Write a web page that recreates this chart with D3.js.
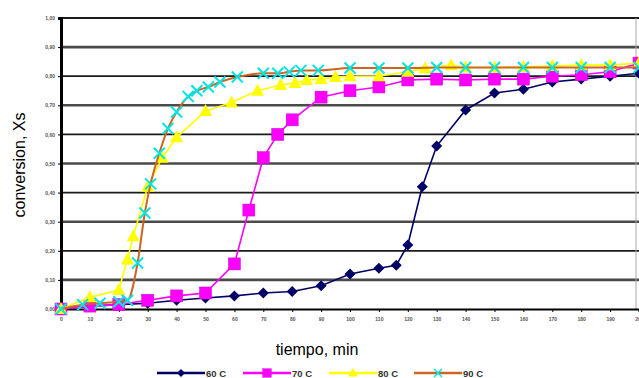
<!DOCTYPE html>
<html><head><meta charset="utf-8">
<script src="https://cdn.jsdelivr.net/npm/d3@7/dist/d3.min.js"></script>
<style>body{margin:0;background:#fff}svg{display:block}</style>
</head><body>
<svg id="c" width="639" height="378"></svg>
<script>
const t60=[0,10,20,30,40,50,60,70,80,90,100,110,116,120,125,130,140,150,160,170,180,190,200];
const x60=[0,0.01,0.015,0.02,0.03,0.038,0.045,0.055,0.06,0.08,0.12,0.14,0.15,0.22,0.42,0.56,0.684,0.742,0.755,0.78,0.79,0.80,0.81];
const t70=[0,10,20,30,40,50,60,65,70,75,80,90,100,110,120,130,140,150,160,170,180,190,200];
const x70=[0,0.01,0.015,0.03,0.045,0.055,0.155,0.34,0.52,0.60,0.65,0.728,0.75,0.763,0.787,0.79,0.787,0.79,0.79,0.80,0.805,0.815,0.845];
const t80=[0,10,20,23,25,30,35,40,50,59,68,76,81,85,90,95,100,110,120,126,135,140,150,160,170,180,190,200];
const x80=[0,0.04,0.065,0.17,0.25,0.42,0.52,0.59,0.68,0.71,0.75,0.77,0.777,0.787,0.79,0.797,0.80,0.80,0.815,0.827,0.838,0.83,0.83,0.832,0.835,0.838,0.838,0.845];
const t90=[0,7.5,13.5,20,23,26.5,29,31,34,37,40,44,47,51,55,61,70,75,79,83,89,100,110,120,130,140,150,160,170,180,190,200];
const x90=[0,0.015,0.02,0.025,0.03,0.158,0.33,0.43,0.535,0.62,0.677,0.73,0.75,0.763,0.78,0.797,0.81,0.81,0.815,0.82,0.82,0.828,0.828,0.828,0.83,0.83,0.83,0.83,0.83,0.83,0.83,0.83];
const xTicks=[0,10,20,30,40,50,60,70,80,90,100,110,120,130,140,150,160,170,180,190,200];
const yTicks=[0,0.1,0.2,0.3,0.4,0.5,0.6,0.7,0.8,0.9,1.0];
const seriesNames=["60 C","70 C","80 C","90 C"];

const svg=d3.select("#c");
const x=d3.scaleLinear().domain([0,200]).range([61,639]);
const y=d3.scaleLinear().domain([0,1]).range([309,18]);

// gridlines
svg.append("g").selectAll("line").data(yTicks.slice(1)).join("line")
  .attr("x1",61).attr("x2",639).attr("y1",d=>y(d)).attr("y2",d=>y(d))
  .attr("stroke",(d,i)=>i%2? "#1a1a1a":"#4a4a4a").attr("stroke-width",(d,i)=>i%2?1.8:2.6);
svg.append("line").attr("x1",636).attr("x2",636).attr("y1",18).attr("y2",309).attr("stroke","#aaa").attr("stroke-width",1);

// axes
const fmt=d=>d.toFixed(2).replace(".",",");
const ya=svg.append("g").attr("transform","translate(61,0)")
  .call(d3.axisLeft(y).tickValues(yTicks).tickFormat(fmt).tickSize(3).tickPadding(3));
ya.select(".domain").attr("stroke","#000").attr("stroke-width",3);
ya.selectAll("text").attr("font-size",5).attr("font-family","Arial, Liberation Sans").attr("font-weight","bold").attr("fill","#555");
const xa=svg.append("g").attr("transform","translate(0,309)")
  .call(d3.axisBottom(x).tickValues(xTicks).tickFormat(d3.format("d")).tickSize(3).tickPadding(5));
xa.select(".domain").attr("stroke","#000").attr("stroke-width",2);
xa.selectAll("text").attr("font-size",5).attr("font-family","Arial, Liberation Sans").attr("font-weight","bold").attr("fill","#555");

// titles
svg.append("text").attr("x",317).attr("y",355).attr("text-anchor","middle")
  .attr("font-family","Arial, Liberation Sans").attr("font-size",16).text("tiempo, min");
svg.append("text").attr("transform","translate(25,165) rotate(-90)").attr("text-anchor","middle")
  .attr("font-family","Arial, Liberation Sans").attr("font-size",16).text("conversion, Xs");

const series=[
 {t:t60,v:x60,line:"#000066",fill:"#000066",sym:"diamond",curve:d3.curveLinear},
 {t:t70,v:x70,line:"#ff00ff",fill:"#ff00ff",sym:"square",curve:d3.curveLinear},
 {t:t80,v:x80,line:"#ffff00",fill:"#ffff00",sym:"triangle",curve:d3.curveLinear},
 {t:t90,v:x90,line:"#cc6622",fill:"#00e5e5",sym:"x",curve:d3.curveMonotoneX}
];
function marker(g,sym,color,cx,cy){
  if(sym==="diamond"){
    g.append("path").attr("d",`M${cx},${cy-5.5}L${cx+5.5},${cy}L${cx},${cy+5.5}L${cx-5.5},${cy}Z`).attr("fill",color);
  }else if(sym==="square"){
    g.append("rect").attr("x",cx-6).attr("y",cy-6).attr("width",12).attr("height",12).attr("fill",color).attr("stroke","#cc00cc").attr("stroke-width",0.5);
  }else if(sym==="triangle"){
    g.append("path").attr("d",`M${cx},${cy-7}L${cx+6.5},${cy+5}L${cx-6.5},${cy+5}Z`).attr("fill",color);
  }else{
    g.append("path").attr("d",`M${cx-5.5},${cy-5.5}L${cx+5.5},${cy+5.5}M${cx+5.5},${cy-5.5}L${cx-5.5},${cy+5.5}`).attr("stroke",color).attr("stroke-width",2);
  }
}
series.forEach(s=>{
  const pts=s.t.map((t,i)=>[t,s.v[i]]);
  const line=d3.line().x(d=>x(d[0])).y(d=>y(d[1])).curve(s.curve);
  const g=svg.append("g");
  g.append("path").attr("d",line(pts)).attr("fill","none").attr("stroke",s.line).attr("stroke-width",s.sym==="x"?2:1.6);
  pts.forEach(p=>marker(g,s.sym,s.fill,x(p[0]),y(p[1])));
});

// legend
const lx=[157,243,329,414];
series.forEach((s,i)=>{
  const g=svg.append("g");
  const x0=lx[i], ly=373;
  g.append("line").attr("x1",x0).attr("x2",x0+48).attr("y1",ly).attr("y2",ly).attr("stroke",s.line).attr("stroke-width",2.5);
  const mk=g.append("g");
  marker(mk,s.sym,s.fill,x0+24,ly);
  mk.attr("transform",`translate(${x0+24},${ly}) scale(0.72) translate(${-(x0+24)},${-ly})`);
  g.append("text").attr("x",x0+49).attr("y",ly+3.5).attr("font-family","Arial, Liberation Sans")
    .attr("font-size",9.5).attr("font-weight","bold").attr("fill","#333").text(seriesNames[i]);
});
</script>
</body></html>
